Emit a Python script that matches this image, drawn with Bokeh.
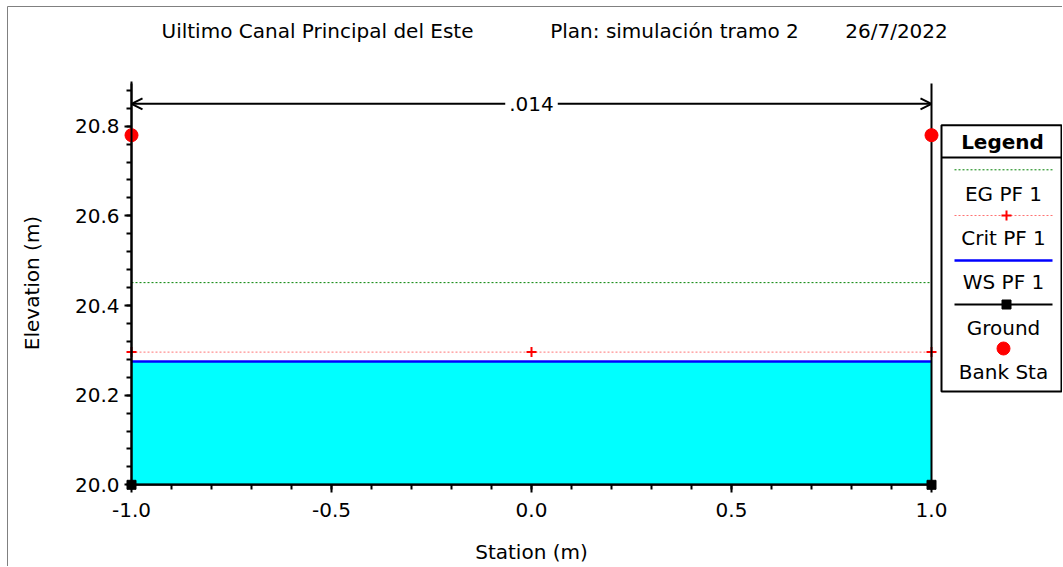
from bokeh.plotting import figure
from bokeh.models import (Range1d, SingleIntervalTicker, PrintfTickFormatter, Label,
                          Arrow, OpenHead, BoxAnnotation)
from bokeh.embed import file_html
from bokeh.resources import INLINE

# ---------------- data ----------------
title_parts = ["Uiltimo Canal Principal del Este", "Plan: simulación tramo 2", "26/7/2022"]
x_label = "Station (m)"
y_label = "Elevation (m)"

ground_station = [-1.0, -1.0, 1.0, 1.0]
ground_elev = [20.78, 20.0, 20.0, 20.78]
bank_station = [-1.0, 1.0]
bank_elev = [20.78, 20.78]
ws_station = [-1.0, 1.0]
ws_elev = [20.275, 20.275]
crit_station = [-1.0, 0.0, 1.0]
crit_elev = [20.296, 20.296, 20.296]
eg_station = [-1.0, 1.0]
eg_elev = [20.451, 20.451]
n_value_text = ".014"
n_value_station = [-1.0, 1.0]
n_value_top = [20.895, 20.895]
n_value_arrow_elev = 20.85

legend_title = "Legend"
legend_labels = ["EG PF 1", "Crit PF 1", "WS PF 1", "Ground", "Bank Sta"]

x_bounds = (-1.0, 1.0)
y_bounds = (20.0, 20.9)
x_tick_interval = 0.5
y_tick_interval = 0.2

# ---------------- layout (page pixels) ----------------
FONT = "DejaVu Sans"
FS = "20px"
W, H = 1062, 566
X_M1, X_P1 = 131.0, 931.0          # page x of station -1 and +1
Y_200, Y_208 = 484.3, 125.7        # page y of elev 20.0 and 20.8
kx = (X_P1 - X_M1) / 2.0
ky = (Y_200 - Y_208) / 0.8


def px_x(px):
    return -1.0 + (px - X_M1) / kx


def px_y(py):
    return 20.0 + (Y_200 - py) / ky


def text_label(x, y, text, bold=False, **kw):
    return Label(x=x, y=y, text=text, text_align="center", text_baseline="middle",
                 text_font=FONT, text_font_size=FS, text_color="black",
                 text_font_style="bold" if bold else "normal", **kw)


p = figure(width=W, height=H, output_backend="svg", toolbar_location=None,
           x_range=Range1d(px_x(0), px_x(W)),
           y_range=Range1d(px_y(H), px_y(0)),
           min_border=0, min_border_left=0, min_border_right=0,
           min_border_top=0, min_border_bottom=0,
           background_fill_color="white", border_fill_color="white")
p.outline_line_color = None
p.xgrid.visible = False
p.ygrid.visible = False

# outer frame lines of the page
p.segment(x0=[px_x(7), px_x(7)], y0=[px_y(6), px_y(6)], x1=[px_x(W + 5), px_x(7)],
          y1=[px_y(6), px_y(H + 5)], line_color="#808080", line_width=1)

# axes
xa = p.xaxis[0]
xa.fixed_location = 20.0
xa.bounds = x_bounds
xa.ticker = SingleIntervalTicker(interval=x_tick_interval, num_minor_ticks=5)
xa.formatter = PrintfTickFormatter(format="%.1f")
xa.axis_label = x_label
xa.major_tick_out = 8
xa.minor_tick_out = 5
xa.major_label_standoff = 10
xa.axis_label_standoff = 20

ya = p.yaxis[0]
ya.fixed_location = -1.0
ya.bounds = y_bounds
ya.ticker = SingleIntervalTicker(interval=y_tick_interval, num_minor_ticks=5)
ya.formatter = PrintfTickFormatter(format="%.1f")
ya.axis_label = y_label
ya.major_tick_out = 7
ya.minor_tick_out = 5
ya.major_label_standoff = 5
ya.axis_label_standoff = 28

for ax in (xa, ya):
    ax.axis_line_width = 2
    ax.major_tick_line_width = 2
    ax.minor_tick_line_width = 2
    ax.major_tick_in = 0
    ax.minor_tick_in = 0
    ax.axis_line_color = "black"
    ax.major_tick_line_color = "black"
    ax.minor_tick_line_color = "black"
    ax.major_label_text_font = FONT
    ax.major_label_text_font_size = FS
    ax.major_label_text_color = "black"
    ax.axis_label_text_font = FONT
    ax.axis_label_text_font_size = FS
    ax.axis_label_text_font_style = "normal"
    ax.axis_label_text_color = "black"

# water
p.varea(x=ws_station, y1=[ground_elev[1], ground_elev[2]], y2=ws_elev, fill_color="#00FFFF")
# EG
p.line(eg_station, eg_elev, line_color="#008000", line_width=1, line_dash="2 2")
# Crit
p.line(crit_station, crit_elev, line_color="#FF0000", line_alpha=0.55, line_width=1, line_dash="2 2")
p.scatter(crit_station, crit_elev, marker="cross", size=10, line_color="#FF0000", line_width=2)
# WS
p.line(ws_station, ws_elev, line_color="#0000FF", line_width=2.5)
# Ground
p.line(ground_station, ground_elev, line_color="black", line_width=2)
p.scatter(ground_station, ground_elev, marker="square", size=9, color="black")
# n value markers
p.segment(x0=n_value_station, y0=bank_elev, x1=n_value_station, y1=n_value_top,
          line_color="black", line_width=2)
# Bank stations
p.scatter(bank_station, bank_elev, marker="circle", size=13, color="#FF0000")

# n value arrows
for xe in n_value_station:
    p.add_layout(Arrow(x_start=0.0, y_start=n_value_arrow_elev, x_end=xe, y_end=n_value_arrow_elev,
                       line_width=2, line_color="black",
                       end=OpenHead(size=11, line_width=2, line_color="black")))
p.add_layout(text_label(0.0, n_value_arrow_elev, n_value_text,
                        background_fill_color="white", background_fill_alpha=1.0, padding=4))

# title
title_centers = [317, 674, 896]
for t, cx in zip(title_parts, title_centers):
    p.add_layout(text_label(px_x(cx), px_y(30), t))

# ---------------- legend ----------------
LX0, LX1, LY0, LY1 = 941, 1061, 124.7, 391
p.add_layout(BoxAnnotation(left=px_x(LX0), right=px_x(LX1), top=px_y(LY0), bottom=px_y(LY1),
                           fill_color="white", fill_alpha=1.0, line_color="black",
                           line_alpha=1.0, line_width=2, level="underlay", editable=False))
p.segment(x0=[px_x(LX0)], y0=[px_y(157)], x1=[px_x(LX1)], y1=[px_y(157)],
          line_color="black", line_width=2)
p.add_layout(text_label(px_x(1002), px_y(141), legend_title, bold=True))
sample_y = [169.3, 215, 260, 304, 348]
label_y = [193, 237, 281, 327, 371]
lx_a, lx_b, lcx = px_x(954), px_x(1052), px_x(1003)
p.line([lx_a, lx_b], [px_y(sample_y[0])] * 2, line_color="#008000", line_width=1, line_dash="2 2")
p.line([lx_a, lx_b], [px_y(sample_y[1])] * 2, line_color="#FF0000", line_alpha=0.55,
       line_width=1, line_dash="2 2")
p.scatter([px_x(1006)], [px_y(sample_y[1])], marker="cross", size=10, line_color="#FF0000", line_width=2)
p.line([lx_a, lx_b], [px_y(sample_y[2])] * 2, line_color="#0000FF", line_width=2.5)
p.line([lx_a, lx_b], [px_y(sample_y[3])] * 2, line_color="black", line_width=2)
p.scatter([px_x(1006)], [px_y(sample_y[3])], marker="square", size=9, color="black")
p.scatter([px_x(1003)], [px_y(sample_y[4])], marker="circle", size=13, color="#FF0000")
for t, ly in zip(legend_labels, label_y):
    p.add_layout(text_label(lcx, px_y(ly), t))

open("out.html", "w").write(file_html(p, INLINE))
